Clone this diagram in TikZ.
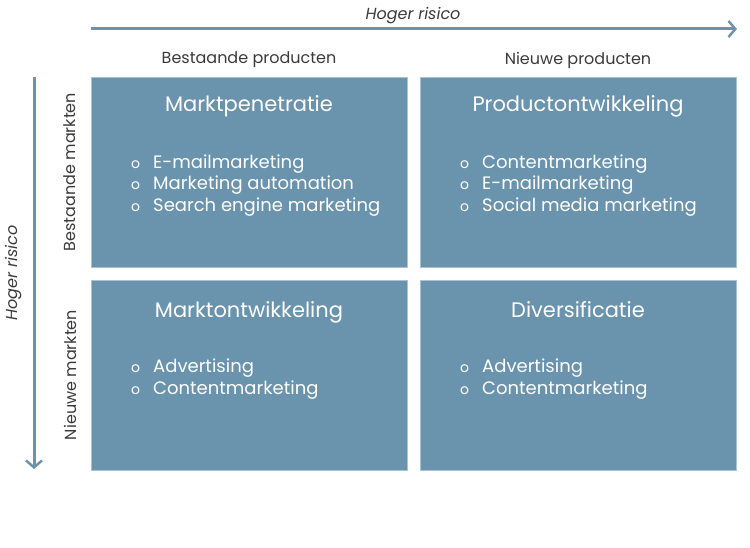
\documentclass[tikz,border=0pt]{standalone}
\usepackage{fontspec}
\setmainfont{Poppins}
\usetikzlibrary{arrows.meta}
\definecolor{boxblue}{HTML}{6A93AE}
\definecolor{edgeblue}{HTML}{A9C3D6}
\definecolor{txtgray}{HTML}{3A3A3A}
\tikzset{
  quad/.style={fill=boxblue, draw=edgeblue, line width=0.6pt},
  qtitle/.style={text=white, font=\fontsize{21}{24}\selectfont, anchor=base},
  qitem/.style={text=white, font=\fontsize{18}{21}\selectfont, anchor=base west, inner sep=0pt},
  qbul/.style={text=white, font=\fontsize{14}{16}\selectfont, anchor=base west, inner sep=0pt},
  axlabel/.style={text=txtgray, font=\fontsize{16}{19}\selectfont},
  riskarrow/.style={draw=boxblue, line width=3pt, -{Straight Barb[length=7pt,width=16pt,line width=2.4pt]}},
}
\begin{document}
\begin{tikzpicture}[x=1pt,y=-1pt]
\useasboundingbox (0,0) rectangle (750,548);
% quadrants
\draw[quad] (91,77) rectangle (407,267);
\draw[quad] (420,77) rectangle (736,267);
\draw[quad] (91,280) rectangle (407,470);
\draw[quad] (420,280) rectangle (736,470);
% arrows
\coordinate (hs) at (91,29);
\coordinate (he) at (737,29);
\draw[riskarrow] (hs) -- (he);
\coordinate (vs) at (34,77);
\coordinate (ve) at (34,469);
\draw[riskarrow] (vs) -- (ve);
\node[axlabel, font=\fontsize{16}{19}\selectfont\itshape] (hr) at (413,16) {Hoger risico};
\node[axlabel, font=\fontsize{16}{19}\selectfont\itshape, rotate=90] (vr) at (14,273) {Hoger risico};
\node[axlabel] (bp) at (249,60) {Bestaande producten};
\node[axlabel] (np) at (578,60) {Nieuwe producten};
\node[axlabel, rotate=90] (bm) at (70,172) {Bestaande markten};
\node[axlabel, rotate=90] (nm) at (70,375) {Nieuwe markten};
% titles
\node[qtitle] (t1) at (249,112) {Marktpenetratie};
\node[qtitle] (t2) at (578,112) {Productontwikkeling};
\node[qtitle] (t3) at (249,317) {Marktontwikkeling};
\node[qtitle] (t4) at (578,317) {Diversificatie};
% items TL
\node[qbul] (b11) at (131,168.5) {o}; \node[qitem] (i11) at (153,168.5) {E-mailmarketing};
\node[qbul] (b12) at (131,190) {o}; \node[qitem] (i12) at (153,190) {Marketing automation};
\node[qbul] (b13) at (131,211.5) {o}; \node[qitem] (i13) at (153,211.5) {Search engine marketing};
% items TR
\node[qbul] (b21) at (460,168.5) {o}; \node[qitem] (i21) at (482,168.5) {Contentmarketing};
\node[qbul] (b22) at (460,190) {o}; \node[qitem] (i22) at (482,190) {E-mailmarketing};
\node[qbul] (b23) at (460,211.5) {o}; \node[qitem] (i23) at (482,211.5) {Social media marketing};
% items BL
\node[qbul] (b31) at (131,372.5) {o}; \node[qitem] (i31) at (153,372.5) {Advertising};
\node[qbul] (b32) at (131,394) {o}; \node[qitem] (i32) at (153,394) {Contentmarketing};
% items BR
\node[qbul] (b41) at (460,372.5) {o}; \node[qitem] (i41) at (482,372.5) {Advertising};
\node[qbul] (b42) at (460,394) {o}; \node[qitem] (i42) at (482,394) {Contentmarketing};
\end{tikzpicture}
\end{document}
